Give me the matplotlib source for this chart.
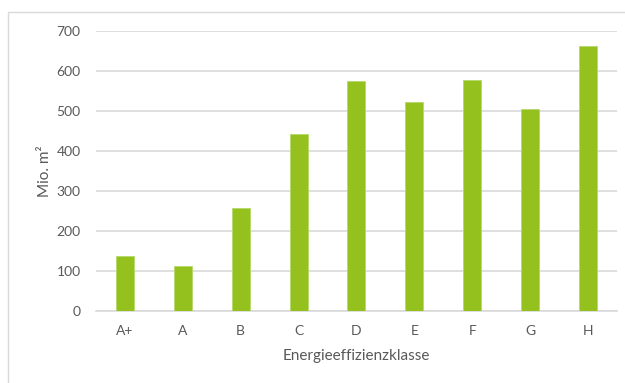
import matplotlib.pyplot as plt
from matplotlib.patches import Rectangle

klassen = ["A+", "A", "B", "C", "D", "E", "F", "G", "H"]
flaeche = [138, 113, 257, 442, 575, 522, 577, 506, 663]
y_ticks = [0, 100, 200, 300, 400, 500, 600, 700]

GREEN = "#95c11f"
GREY = "#595959"

plt.rcParams["font.family"] = ["Lato", "DejaVu Sans"]

fig = plt.figure(figsize=(6.25, 3.83), dpi=100)
ax = fig.add_axes([0.1536, 0.188, 0.8334, 0.731])

# light frame around the chart area
fig.patches.append(Rectangle((8 / 625, -0.1), 1.2, 0.969 + 0.1,
                             transform=fig.transFigure, fill=False,
                             edgecolor="#d9d9d9", linewidth=1.0))

x = range(len(klassen))
ax.bar(x, flaeche, width=0.31, color=GREEN, edgecolor="#b5d86a",
       linewidth=0.6, zorder=3)

ax.set_xlim(-0.5, len(klassen) - 0.5)
ax.set_ylim(0, 700)
ax.set_yticks(y_ticks)
ax.set_xticks(list(x))
ax.set_xticklabels(klassen)
ax.yaxis.grid(True, color="#d9d9d9", linewidth=1.2, zorder=0)
ax.set_axisbelow(True)

for side in ["top", "right", "left"]:
    ax.spines[side].set_visible(False)
ax.spines["bottom"].set_color("#d9d9d9")
ax.spines["bottom"].set_linewidth(1.2)

ax.tick_params(axis="both", length=0, labelsize=10, labelcolor=GREY)
ax.tick_params(axis="y", pad=11)
ax.tick_params(axis="x", pad=10)

ax.set_xlabel("Energieeffizienzklasse", fontsize=11, color=GREY, labelpad=9)
ax.set_ylabel("Mio. m²", fontsize=11, color=GREY, labelpad=3)

fig.savefig("out.png", dpi=100)
